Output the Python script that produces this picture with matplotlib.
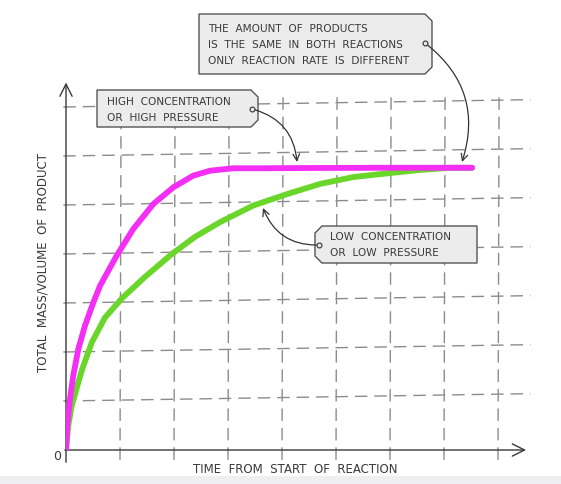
import numpy as np
import matplotlib.pyplot as plt
from matplotlib.patches import Polygon, Rectangle

# === Data (grid units) ===
t_high = [0, 0.024, 0.074, 0.135, 0.228, 0.352, 0.506, 0.63, 0.94, 1.246, 1.617,
          1.987, 2.357, 2.667, 3.098, 3.59, 4.5, 6.0, 7.52]
m_high = [0, 0.50, 1.04, 1.52, 2.06, 2.54, 3.01, 3.35, 3.97, 4.51, 5.02,
          5.36, 5.60, 5.70, 5.75, 5.75, 5.755, 5.76, 5.76]

t_low = [0, 0.043, 0.106, 0.228, 0.30, 0.48, 0.72, 1.04, 1.46, 1.96, 2.39,
         2.852, 3.469, 4.087, 4.704, 5.32, 5.815, 6.5, 7.11, 7.52]
m_low = [0, 0.50, 0.90, 1.38, 1.65, 2.20, 2.70, 3.10, 3.53, 4.00, 4.35,
         4.65, 4.99, 5.22, 5.43, 5.57, 5.63, 5.71, 5.76, 5.76]

grid_x = [1, 2, 3, 4, 5, 6, 7, 8]
grid_y = [1, 2, 3, 4, 5, 6, 7]

xlabel = "TIME  FROM  START  OF  REACTION"
ylabel = "TOTAL  MASS/VOLUME  OF  PRODUCT"
note_same = "THE  AMOUNT  OF  PRODUCTS\nIS  THE  SAME  IN  BOTH  REACTIONS\nONLY  REACTION  RATE  IS  DIFFERENT"
note_high = "HIGH  CONCENTRATION\nOR  HIGH  PRESSURE"
note_low = "LOW  CONCENTRATION\nOR  LOW  PRESSURE"

W, H = 561, 485
fig = plt.figure(figsize=(W / 100, H / 100), dpi=100)
fig.patch.set_facecolor('white')

ax = fig.add_axes([66 / W, 34 / H, 459 / W, 367.5 / H])
ax.set_xlim(0, 8.5)
ax.set_ylim(0, 7.5)
ax.axis('off')

grey = '#8c8c8c'
ink = '#3a3a3a'

# grille en pointillés, légèrement penchée comme à la main
for gy in grid_y:
    ax.plot([-0.05, 8.6], [gy, gy + 0.15], color=grey, lw=1, dashes=(9, 5), clip_on=False, zorder=1)
for gx in grid_x:
    ax.plot([gx, gx + 0.02], [-0.2, 7.2], color=grey, lw=1, dashes=(9, 5), clip_on=False, zorder=1)

# axes avec flèches ouvertes
ax.annotate('', xy=(8.52, 0), xytext=(-0.02, 0),
            arrowprops=dict(arrowstyle='->', lw=1, color=ink, mutation_scale=22, shrinkA=0, shrinkB=0),
            annotation_clip=False)
ax.annotate('', xy=(0, 7.5), xytext=(0, -0.25),
            arrowprops=dict(arrowstyle='->', lw=1, color=ink, mutation_scale=22, shrinkA=0, shrinkB=0),
            annotation_clip=False)

ax.plot(t_low, m_low, color='#6ad62a', lw=4.2, solid_capstyle='round', solid_joinstyle='round', zorder=3)
ax.plot(t_high, m_high, color='#f52ef5', lw=4.2, solid_capstyle='round', solid_joinstyle='round', zorder=4)

ax.text(-0.09, -0.12, '0', ha='right', va='center', fontsize=9, color=ink)
ax.text(4.25, -0.38, xlabel, ha='center', va='center', fontsize=8.5, color=ink)
ax.text(-0.42, 3.85, ylabel, ha='center', va='center', rotation=90, fontsize=8.5, color=ink)

# === Annotations (coordonnées en pixels) ===
ov = fig.add_axes([0, 0, 1, 1], facecolor='none')
ov.set_xlim(0, W)
ov.set_ylim(H, 0)
ov.axis('off')

# bande grise en bas
ov.add_patch(Rectangle((0, 477), W, 8, facecolor='#efeff1', edgecolor='none'))


def boite(x0, y0, x1, y1, c=7, side='right'):
    if side == 'right':
        pts = [(x0, y0), (x1 - c, y0), (x1, y0 + c), (x1, y1 - c), (x1 - c, y1), (x0, y1)]
    else:
        pts = [(x0 + c, y0), (x1, y0), (x1, y1), (x0 + c, y1), (x0, y1 - c), (x0, y0 + c)]
    ov.add_patch(Polygon(pts, closed=True, facecolor='#ececec', edgecolor='#555555', lw=1, zorder=5))


def fleche(x0, y0, x1, y1, rad):
    ov.annotate('', xy=(x1, y1), xytext=(x0, y0),
                arrowprops=dict(arrowstyle='->', lw=0.9, color='#333333', mutation_scale=12,
                                shrinkA=2, shrinkB=0, connectionstyle=f'arc3,rad={rad}'),
                zorder=6)
    ov.plot(x0, y0, 'o', ms=3.5, mfc='#ececec', mec='#333333', mew=0.8, zorder=7)


boite(199, 15, 432, 75)
ov.text(208, 45, note_same, ha='left', va='center', fontsize=7.6, color=ink, linespacing=1.75, zorder=6)
fleche(425, 44, 462, 163, -0.35)

boite(97, 91, 258, 128)
ov.text(107, 110, note_high, ha='left', va='center', fontsize=7.6, color=ink, linespacing=1.75, zorder=6)
fleche(252, 110, 297, 163, -0.35)

boite(315, 227, 477, 264, side='left')
ov.text(330, 245.5, note_low, ha='left', va='center', fontsize=7.6, color=ink, linespacing=1.75, zorder=6)
fleche(319, 246, 263, 209, -0.35)

fig.savefig('out.png', dpi=100)
